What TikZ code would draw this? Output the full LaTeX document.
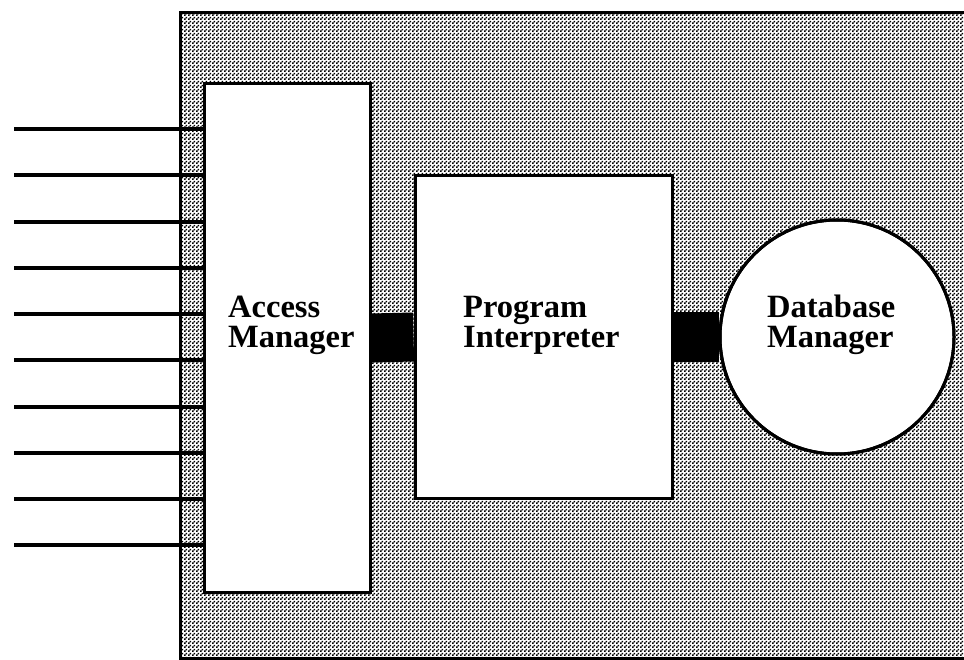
\documentclass[tikz,border=0pt]{standalone}
\usepackage{fontspec}
\setmainfont{Liberation Serif}
\usetikzlibrary{patterns}

% fine halftone screen used for the backplane
\pgfdeclarepatternformonly{halftone}{\pgfpointorigin}{\pgfpoint{4pt}{4pt}}{\pgfpoint{4pt}{4pt}}{%
  \pgfpathrectangle{\pgfpointorigin}{\pgfpoint{2pt}{2pt}}%
  \pgfpathrectangle{\pgfpoint{2pt}{2pt}}{\pgfpoint{2pt}{2pt}}%
  \pgfusepath{fill}}

\tikzset{
  plane/.style={draw=black, line width=3pt, pattern=halftone, pattern color=black},
  unitbox/.style={draw=black, line width=3pt, fill=white, rectangle, inner sep=0pt},
  unitcircle/.style={draw=black, line width=3pt, fill=white, circle, inner sep=0pt, minimum size=234pt},
  unitlabel/.style={anchor=base west, inner sep=0pt, align=left,
    font=\fontsize{32.5}{30}\selectfont\bfseries},
  inline/.style={draw=black, line width=4pt},
  bus/.style={draw=black, line width=49pt}
}

\begin{document}
\begin{tikzpicture}[x=1pt, y=-1pt]
  \useasboundingbox (0,0) rectangle (964,660);

  % backplane
  \path[plane] (180,13) rectangle (975,658);

  % units
  \node[unitbox, minimum width=166pt, minimum height=508pt] (am) at (287,338) {};
  \node[unitbox, minimum width=257pt, minimum height=322pt] (pi) at (543.5,337) {};
  \node[unitcircle] (db) at (837,337) {};

  % wide buses between units
  \path[bus] (am.east) -- (pi.west);
  \path[bus] (pi.east) -- (db.west);
  % redraw outlines over the bus ends
  \node[unitbox, minimum width=166pt, minimum height=508pt, fill=none] at (am.center) {};
  \node[unitbox, minimum width=257pt, minimum height=322pt, fill=none] at (pi.center) {};
  \node[unitcircle, fill=none] at (db.center) {};

  % labels
  \node[unitlabel] (amtext) at (228,348) {Access\\Manager};
  \node[unitlabel] (pitext) at (463,348) {Program\\Interpreter};
  \node[unitlabel] (dbtext) at (767,348) {Database\\Manager};

  % incoming lines
  \foreach \i/\y in {1/129,2/175,3/222,4/268,5/314,6/360,7/407,8/453,9/499,10/545} {
    \coordinate (in\i) at (14,\y);
    \draw[inline] (in\i) -- (in\i -| am.west);
  }
\end{tikzpicture}
\end{document}
